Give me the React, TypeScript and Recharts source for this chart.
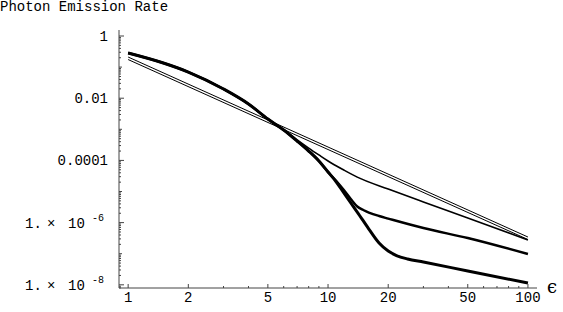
import { LineChart, Line, XAxis, YAxis } from 'recharts';

const MONO = '"Liberation Mono", "DejaVu Sans Mono", monospace';
const AXIS = '#444';

// rates, one pair of arrays per curve
const epsA = [1, 100];
const rateA = [0.211, 3.44e-7];

const epsB = [1, 100];
const rateB = [0.175, 2.86e-7];

const epsC = [1, 1.5, 2, 3, 4, 5, 6, 7, 8, 9, 10, 12, 14, 20, 30, 50, 100];
const rateC = [0.284, 0.1355, 0.0695, 0.01977, 0.00652, 0.00214, 9.48e-4, 4.6e-4, 2.5e-4, 1.5e-4, 9.6e-5, 4.9e-5, 2.9e-5, 1.2e-5, 4.6e-6, 1.41e-6, 2.76e-7];

const epsD = [1, 1.5, 2, 3, 4, 5, 6, 7, 8, 9, 10, 11, 12, 13, 14, 15, 16, 18, 20, 30, 50, 100];
const rateD = [0.284, 0.1355, 0.0695, 0.01977, 0.00652, 0.00214, 9.48e-4, 4.21e-4, 2.0e-4, 9.57e-5, 4.24e-5, 2.18e-5, 1.12e-5, 5.74e-6, 3.3e-6, 2.54e-6, 2.11e-6, 1.63e-6, 1.35e-6, 6.7e-7, 3.2e-7, 9.77e-8];

const epsE = [1, 1.5, 2, 3, 4, 5, 6, 7, 8, 9, 10, 11, 12, 13, 14, 16, 18, 20, 22, 25, 30, 50, 100];
const rateE = [0.284, 0.1355, 0.0695, 0.01977, 0.00652, 0.00214, 9.48e-4, 4.21e-4, 2.0e-4, 9.57e-5, 4.24e-5, 2.02e-5, 8.95e-6, 4.27e-6, 2.19e-6, 6.22e-7, 2.21e-7, 1.22e-7, 8.75e-8, 6.76e-8, 5.41e-8, 2.78e-8, 1.14e-8];

const X_DOMAIN = [0.9, 111];
const Y_DOMAIN = [7.9e-9, 1.56];

const X_LABELS = [1, 2, 5, 10, 20, 50, 100];
const X_MINOR = [3, 4, 6, 7, 8, 9, 30, 40, 60, 70, 80, 90];

const Y_LABELS = [
  { v: 1, text: '1' },
  { v: 0.01, text: '0.01' },
  { v: 1e-4, text: '0.0001' },
  { v: 1e-6, exp: '-6' },
  { v: 1e-8, exp: '-8' },
];
const Y_DECADES = [0.1, 1e-3, 1e-5, 1e-7];

const toPoints = (eps: number[], rate: number[]) => eps.map((x, i) => ({ x, y: rate[i] }));

const yMinor: number[] = [];
for (let e = -9; e <= 0; e++) {
  for (let m = 2; m <= 9; m++) {
    const v = m * Math.pow(10, e);
    if (v > Y_DOMAIN[0] && v < Y_DOMAIN[1]) yMinor.push(v);
  }
}
const yTicks = [...Y_LABELS.map((l) => l.v), ...Y_DECADES, ...yMinor];
const xTicks = [...X_LABELS, ...X_MINOR];

const same = (a: number, b: number) => Math.abs(a - b) <= Math.abs(b) * 1e-6;

const YTick = (props: any) => {
  const { x, y, payload } = props;
  const v = payload.value;
  const label = Y_LABELS.find((l) => same(v, l.v));
  const decade = Y_DECADES.some((d) => same(v, d));
  const len = label ? 5 : decade ? 3 : 2;
  return (
    <g>
      <line x1={x} x2={x + len} y1={y} y2={y} stroke={AXIS} />
      {label && label.text && (
        <text x={x - 11} y={y + 5} textAnchor="end" fontFamily={MONO} fontSize={14} fill="#000">
          {label.text}
        </text>
      )}
      {label && label.exp && (
        <text y={y + 5} fontFamily={MONO} fontSize={14} fill="#000">
          <tspan x={x - 94}>1.</tspan>
          <tspan x={x - 72}>×</tspan>
          <tspan x={x - 51}>10</tspan>
          <tspan x={x - 27} dy={-7} fontSize={10}>{label.exp}</tspan>
        </text>
      )}
    </g>
  );
};

const XTick = (props: any) => {
  const { x, y, payload } = props;
  const major = X_LABELS.some((l) => same(payload.value, l));
  return (
    <g>
      <line x1={x} x2={x} y1={y} y2={y - (major ? 4 : 2)} stroke={AXIS} />
      {major && (
        <text x={x} y={y + 14} textAnchor="middle" fontFamily={MONO} fontSize={14} fill="#000">
          {payload.value}
        </text>
      )}
    </g>
  );
};

export default function App() {
  return (
    <div style={{ position: 'absolute', left: 0, top: 0, width: 563, height: 312, background: '#fff' }}>
      <div style={{ position: 'absolute', left: 0, top: 0, fontFamily: MONO, fontSize: 14, lineHeight: '14px', whiteSpace: 'pre' }}>
        Photon Emission Rate
      </div>
      <div style={{ position: 'absolute', left: 547, top: 277, fontFamily: '"DejaVu Serif", serif', fontSize: 18, lineHeight: '20px' }}>
        ϵ
      </div>
      <LineChart width={563} height={312} margin={{ top: 30, right: 26, bottom: 0, left: 0 }}>
        <XAxis
          dataKey="x"
          type="number"
          scale="log"
          domain={X_DOMAIN}
          allowDataOverflow
          ticks={xTicks}
          interval={0}
          tick={<XTick />}
          tickSize={0}
          tickMargin={0}
          height={24}
          axisLine={{ stroke: AXIS }}
        />
        <YAxis
          dataKey="y"
          type="number"
          scale="log"
          domain={Y_DOMAIN}
          allowDataOverflow
          ticks={yTicks}
          interval={0}
          tick={<YTick />}
          tickSize={0}
          tickMargin={0}
          width={119}
          axisLine={{ stroke: AXIS }}
        />
        <Line data={toPoints(epsA, rateA)} dataKey="y" type="linear" stroke="#000" strokeWidth={1} dot={false} isAnimationActive={false} />
        <Line data={toPoints(epsB, rateB)} dataKey="y" type="linear" stroke="#000" strokeWidth={1} dot={false} isAnimationActive={false} />
        <Line data={toPoints(epsC, rateC)} dataKey="y" type="monotone" stroke="#000" strokeWidth={1.6} dot={false} isAnimationActive={false} />
        <Line data={toPoints(epsD, rateD)} dataKey="y" type="monotone" stroke="#000" strokeWidth={2.4} dot={false} isAnimationActive={false} />
        <Line data={toPoints(epsE, rateE)} dataKey="y" type="monotone" stroke="#000" strokeWidth={3} dot={false} isAnimationActive={false} />
      </LineChart>
    </div>
  );
}
